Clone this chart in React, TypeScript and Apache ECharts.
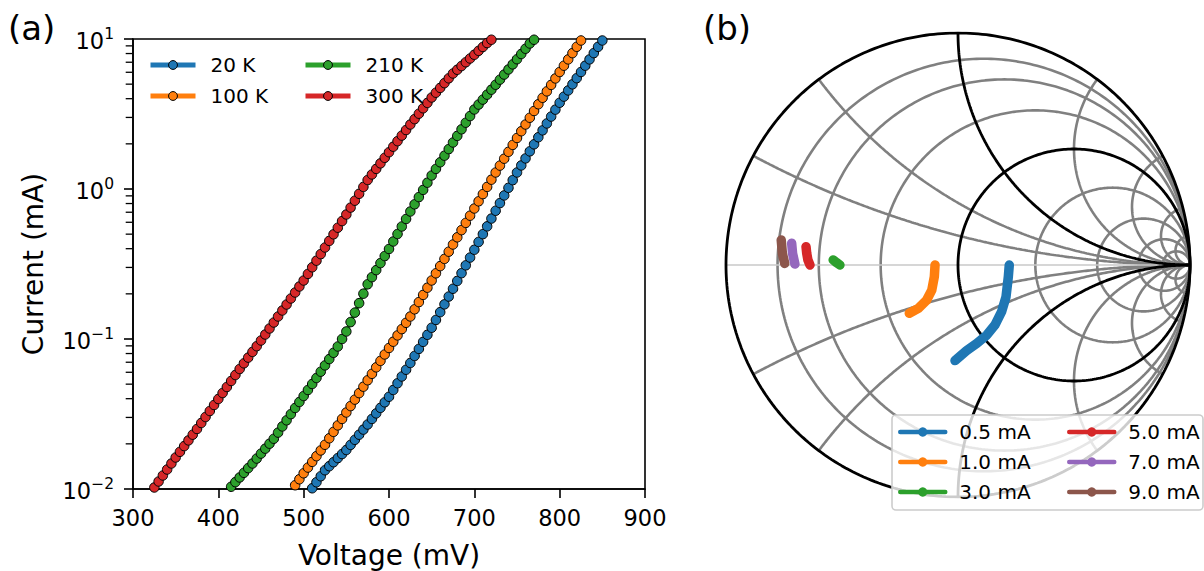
import React, { useEffect, useRef } from "react";
import * as echarts from "echarts";

const FONT = "DejaVu Sans";

// ---------- Panel (a): I-V curves ----------
const voltage = [
  325, 330, 335, 340, 345, 350, 355, 360, 365, 370, 375, 380, 385, 390, 395, 400, 405, 410,
  415, 420, 425, 430, 435, 440, 445, 450, 455, 460, 465, 470, 475, 480, 485, 490, 495, 500,
  505, 510, 515, 520, 525, 530, 535, 540, 545, 550, 555, 560, 565, 570, 575, 580, 585, 590,
  595, 600, 605, 610, 615, 620, 625, 630, 635, 640, 645, 650, 655, 660, 665, 670, 675, 680,
  685, 690, 695, 700, 705, 710, 715, 720, 725, 730, 735, 740, 745, 750, 755, 760, 765, 770,
  775, 780, 785, 790, 795, 800, 805, 810, 815, 820, 825, 830, 835, 840, 845, 850,
];

const temperatureLabels = ["20 K", "100 K", "210 K", "300 K"];
const temperatureColors = ["#1f77b4", "#ff7f0e", "#2ca02c", "#d62728"];

// log10(current / mA)
const logCurrent300K = [
  -1.99, -1.95, -1.91, -1.87, -1.83, -1.79, -1.752, -1.714, -1.676, -1.638,
  -1.6, -1.56, -1.52, -1.48, -1.44, -1.4, -1.36, -1.32, -1.28, -1.24,
  -1.2, -1.162, -1.124, -1.086, -1.048, -1.01, -0.97, -0.93, -0.89, -0.85,
  -0.81, -0.77, -0.73, -0.69, -0.65, -0.61, -0.566, -0.522, -0.478, -0.434,
  -0.39, -0.346, -0.302, -0.258, -0.214, -0.17, -0.124, -0.078, -0.032, 0.014,
  0.06, 0.097, 0.134, 0.171, 0.208, 0.245, 0.282, 0.319, 0.356, 0.393,
  0.43, 0.466, 0.502, 0.538, 0.574, 0.61, 0.642, 0.674, 0.706, 0.738,
  0.77, 0.795, 0.82, 0.845, 0.87, 0.895, 0.921, 0.947, 0.973, 0.995,
];
const logCurrent210K = [
  -1.985, -1.954, -1.923, -1.892, -1.861, -1.83, -1.797, -1.764, -1.731, -1.698,
  -1.665, -1.624, -1.583, -1.542, -1.501, -1.46, -1.42, -1.38, -1.34, -1.3,
  -1.26, -1.218, -1.176, -1.134, -1.092, -1.05, -1.0, -0.95, -0.887, -0.824,
  -0.761, -0.698, -0.635, -0.588, -0.541, -0.494, -0.447, -0.4, -0.35, -0.3,
  -0.25, -0.2, -0.15, -0.102, -0.054, -0.006, 0.042, 0.09, 0.134, 0.178,
  0.222, 0.266, 0.31, 0.354, 0.398, 0.442, 0.486, 0.53, 0.563, 0.596,
  0.629, 0.662, 0.695, 0.729, 0.763, 0.797, 0.831, 0.865, 0.9, 0.935,
  0.97, 0.995,
];
const logCurrent100K = [
  -1.975, -1.935, -1.895, -1.857, -1.819, -1.781, -1.743, -1.705, -1.662, -1.619,
  -1.576, -1.533, -1.49, -1.447, -1.404, -1.361, -1.318, -1.275, -1.232, -1.189,
  -1.146, -1.103, -1.06, -1.018, -0.976, -0.934, -0.892, -0.85, -0.802, -0.754,
  -0.706, -0.658, -0.61, -0.562, -0.514, -0.466, -0.418, -0.37, -0.322, -0.274,
  -0.226, -0.178, -0.13, -0.082, -0.034, 0.014, 0.062, 0.11, 0.156, 0.202,
  0.248, 0.294, 0.34, 0.385, 0.43, 0.475, 0.52, 0.565, 0.608, 0.651,
  0.694, 0.737, 0.78, 0.822, 0.864, 0.906, 0.948, 0.99,
];
const logCurrent20K = [
  -1.995, -1.955, -1.915, -1.875, -1.848, -1.821, -1.794, -1.767, -1.74, -1.706,
  -1.672, -1.638, -1.604, -1.57, -1.533, -1.496, -1.459, -1.422, -1.385, -1.34,
  -1.295, -1.25, -1.205, -1.16, -1.113, -1.066, -1.019, -0.972, -0.925, -0.873,
  -0.821, -0.769, -0.717, -0.665, -0.613, -0.561, -0.509, -0.457, -0.405, -0.353,
  -0.301, -0.249, -0.197, -0.145, -0.094, -0.043, 0.008, 0.059, 0.11, 0.157,
  0.204, 0.251, 0.298, 0.345, 0.391, 0.437, 0.483, 0.529, 0.575, 0.616,
  0.657, 0.698, 0.739, 0.78, 0.822, 0.864, 0.906, 0.948, 0.99,
];
const voltage20K = voltage.slice(37, 106);
const voltage100K = voltage.slice(33, 101);
const voltage210K = voltage.slice(18, 90);
const voltage300K = voltage.slice(0, 80);

const xTicks = { min: 300, max: 900, interval: 100 };
const currentRange = { min: 0.01, max: 10 };
const minorTickValues = [
  0.02, 0.03, 0.04, 0.05, 0.06, 0.07, 0.08, 0.09,
  0.2, 0.3, 0.4, 0.5, 0.6, 0.7, 0.8, 0.9,
  2, 3, 4, 5, 6, 7, 8, 9,
];

// ---------- Panel (b): Smith chart (reflection coefficient) ----------
const smithLabels = ["0.5 mA", "1.0 mA", "3.0 mA", "5.0 mA", "7.0 mA", "9.0 mA"];
const smithColors = ["#1f77b4", "#ff7f0e", "#2ca02c", "#d62728", "#9467bd", "#8c564b"];
const gammaRe05 = [0.221, 0.217, 0.207, 0.188, 0.159, 0.124, 0.081, 0.037, -0.013];
const gammaIm05 = [0.0, -0.05, -0.137, -0.201, -0.259, -0.302, -0.338, -0.369, -0.412];
const gammaRe10 = [-0.099, -0.102, -0.113, -0.135, -0.171, -0.21];
const gammaIm10 = [0.0, -0.05, -0.108, -0.151, -0.187, -0.208];
const gammaRe30 = [-0.538, -0.523, -0.509];
const gammaIm30 = [0.022, 0.01, 0.0];
const gammaRe50 = [-0.655, -0.652, -0.647, -0.638];
const gammaIm50 = [0.079, 0.05, 0.022, 0.0];
const gammaRe70 = [-0.717, -0.713, -0.703];
const gammaIm70 = [0.094, 0.05, 0.004];
const gammaRe90 = [-0.762, -0.757, -0.747];
const gammaIm90 = [0.108, 0.05, 0.007];
const smithRe = [gammaRe05, gammaRe10, gammaRe30, gammaRe50, gammaRe70, gammaRe90];
const smithIm = [gammaIm05, gammaIm10, gammaIm30, gammaIm50, gammaIm70, gammaIm90];

const resistanceCircles = [0.125, 0.25, 0.5, 2, 4, 8, 16];
const reactanceArcs = [0.25, 0.5, 2, 4, 8, 16, -0.25, -0.5, -2, -4, -8, -16];
const boldResistances = [0, 1];
const boldReactances = [1, -1];

function resistancePath(r: number) {
  const cx = r / (1 + r);
  const rad = 1 / (1 + r);
  const pts: number[][] = [];
  const n = 360;
  for (let i = 0; i <= n; i++) {
    const t = (i / n) * 2 * Math.PI;
    pts.push([cx + rad * Math.cos(t), rad * Math.sin(t)]);
  }
  return pts;
}

function reactancePath(x: number) {
  const a = 1 / Math.abs(x);
  const s = Math.sign(x);
  const span = 2 * Math.atan(Math.abs(x));
  const pts: number[][] = [];
  const n = 240;
  for (let i = 0; i <= n; i++) {
    const th = -Math.PI / 2 - (span * i) / n;
    pts.push([1 + a * Math.cos(th), s * (a + a * Math.sin(th))]);
  }
  return pts;
}

export default function App() {
  const ref = useRef<HTMLDivElement>(null);

  useEffect(() => {
    if (!ref.current) return;
    const chart = echarts.init(ref.current, null, { renderer: "svg" });

    const ivSeries = [
      { name: temperatureLabels[0], v: voltage20K, l: logCurrent20K },
      { name: temperatureLabels[1], v: voltage100K, l: logCurrent100K },
      { name: temperatureLabels[2], v: voltage210K, l: logCurrent210K },
      { name: temperatureLabels[3], v: voltage300K, l: logCurrent300K },
    ].map((s, k) => ({
      type: "line",
      name: s.name,
      xAxisIndex: 0,
      yAxisIndex: 0,
      data: s.v.map((v, i) => [v, Math.pow(10, s.l[i])]),
      symbol: "circle",
      symbolSize: 9.5,
      showSymbol: true,
      showAllSymbol: true,
      lineStyle: { width: 4, color: temperatureColors[k] },
      itemStyle: { color: temperatureColors[k], borderColor: "#000", borderWidth: 1 },
      emphasis: { disabled: true },
      z: 2,
    }));

    // minor ticks of the log axis, placed through the axis scale (short marks left of the spine)
    const minorTicks = {
      type: "scatter",
      name: "minor-ticks",
      xAxisIndex: 0,
      yAxisIndex: 0,
      silent: true,
      clip: false,
      data: minorTickValues.map((v) => [xTicks.min, v]),
      symbol: "rect",
      symbolSize: [6.5, 1.3],
      symbolOffset: [-4.05, 0],
      itemStyle: { color: "#000", opacity: 1 },
      emphasis: { disabled: true },
      z: 5,
    };

    const gridLine = (name: string, data: number[][], color: string, width: number) => ({
      type: "line",
      name,
      xAxisIndex: 1,
      yAxisIndex: 1,
      data,
      symbol: "none",
      showSymbol: false,
      silent: true,
      lineStyle: { color, width },
      emphasis: { disabled: true },
      z: 1,
    });

    const smithGrid: any[] = [];
    resistanceCircles.forEach((r) => smithGrid.push(gridLine("r" + r, resistancePath(r), "#808080", 2.6)));
    reactanceArcs.forEach((x) => smithGrid.push(gridLine("x" + x, reactancePath(x), "#808080", 2.6)));
    smithGrid.push(gridLine("real-axis", [[-1, 0], [1, 0]], "#c8c8c8", 1.4));
    boldResistances.forEach((r) => smithGrid.push(gridLine("R" + r, resistancePath(r), "#000000", 2.8)));
    boldReactances.forEach((x) => smithGrid.push(gridLine("X" + x, reactancePath(x), "#000000", 2.8)));

    const smithSeries = smithLabels.map((name, k) => ({
      type: "line",
      name,
      xAxisIndex: 1,
      yAxisIndex: 1,
      data: smithRe[k].map((re, i) => [re, smithIm[k][i]]),
      symbol: "circle",
      showSymbol: false,
      lineStyle: { width: 9.5, color: smithColors[k], cap: "round", join: "round" },
      itemStyle: { color: smithColors[k] },
      emphasis: { disabled: true },
      z: 2,
    }));

    const legendA = (data: string[], left: number) => ({
      data,
      left,
      top: 55,
      orient: "vertical",
      padding: 0,
      itemWidth: 45,
      itemHeight: 11,
      itemGap: 11,
      selectedMode: false,
      lineStyle: { width: 5 },
      itemStyle: { borderColor: "#000", borderWidth: 1 },
      textStyle: { fontSize: 20, lineHeight: 20, fontFamily: FONT, color: "#000", padding: [0, 0, 0, 10] },
    });
    const legendB = (data: string[], left: number) => ({
      data,
      left,
      top: 422,
      orient: "vertical",
      padding: 0,
      itemWidth: 45,
      itemHeight: 11.6,
      itemGap: 10,
      selectedMode: false,
      lineStyle: { width: 4.5 },
      itemStyle: { borderWidth: 0 },
      textStyle: { fontSize: 20, lineHeight: 20, fontFamily: FONT, color: "#000", padding: [0, 0, 0, 9] },
    });

    const option: any = {
      animation: false,
      backgroundColor: "#ffffff",
      textStyle: { fontFamily: FONT },
      title: [
        { text: "(a)", left: 8, top: 11, padding: 0, textStyle: { fontSize: 34, fontWeight: "normal", fontFamily: FONT, color: "#000" } },
        { text: "(b)", left: 703, top: 11, padding: 0, textStyle: { fontSize: 34, fontWeight: "normal", fontFamily: FONT, color: "#000" } },
      ],
      grid: [
        { left: 133, top: 39, width: 512, height: 450, show: true, borderColor: "#000", borderWidth: 1.6, backgroundColor: "transparent", containLabel: false, outerBoundsMode: "none" },
        { left: 726, top: 33, width: 464, height: 464, show: false, containLabel: false, outerBoundsMode: "none" },
      ],
      xAxis: [
        {
          gridIndex: 0,
          type: "value",
          min: xTicks.min,
          max: xTicks.max,
          interval: xTicks.interval,
          name: "Voltage (mV)",
          nameLocation: "middle",
          nameGap: 52,
          nameTextStyle: { fontSize: 28, color: "#000", fontFamily: FONT },
          axisLine: { show: true, lineStyle: { color: "#000", width: 1.6 } },
          axisTick: { show: true, length: 9, lineStyle: { color: "#000", width: 1.6 } },
          axisLabel: { fontSize: 22.5, color: "#000", margin: 17, fontFamily: FONT, showMinLabel: true, showMaxLabel: true },
          splitLine: { show: false },
        },
        { gridIndex: 1, type: "value", min: -1, max: 1, show: false },
      ],
      yAxis: [
        {
          gridIndex: 0,
          type: "log",
          logBase: 10,
          position: "left",
          min: currentRange.min,
          max: currentRange.max,
          name: "Current (mA)",
          nameLocation: "middle",
          nameGap: 86,
          nameRotate: 90,
          nameTextStyle: { fontSize: 28, color: "#000", fontFamily: FONT },
          axisLine: { show: true, lineStyle: { color: "#000", width: 1.6 } },
          axisTick: { show: true, length: 9, lineStyle: { color: "#000", width: 1.6 } },
          axisLabel: {
            margin: 19,
            showMinLabel: true,
            showMaxLabel: true,
            formatter: (v: number) => {
              const e = Math.round(Math.log10(v));
              return `{b|10}{s|${e < 0 ? "\u2212" + -e : e}}`;
            },
            rich: {
              b: { fontSize: 22.5, fontFamily: FONT, color: "#000", lineHeight: 26, verticalAlign: "bottom" },
              s: { fontSize: 15.5, fontFamily: FONT, color: "#000", lineHeight: 15, verticalAlign: "top" },
            },
          },
          splitLine: { show: false },
        },
        { gridIndex: 1, type: "value", min: -1, max: 1, show: false },
      ],
      legend: [
        legendA([temperatureLabels[0], temperatureLabels[1]], 148),
        legendA([temperatureLabels[2], temperatureLabels[3]], 303),
        legendB([smithLabels[0], smithLabels[1], smithLabels[2]], 898),
        legendB([smithLabels[3], smithLabels[4], smithLabels[5]], 1067),
      ],
      graphic: [
        {
          type: "rect",
          z: 3,
          silent: true,
          shape: { x: 892, y: 415, width: 311, height: 95, r: 4 },
          style: { fill: "rgba(255,255,255,0.8)", stroke: "#cccccc", lineWidth: 1.6 },
        },
      ],
      series: [...ivSeries, minorTicks, ...smithGrid, ...smithSeries],
    };

    chart.setOption(option);
    return () => chart.dispose();
  }, []);

  return (
    <div
      ref={ref}
      style={{ position: "fixed", left: 0, top: 0, width: 1204, height: 571, background: "#fff" }}
    />
  );
}
